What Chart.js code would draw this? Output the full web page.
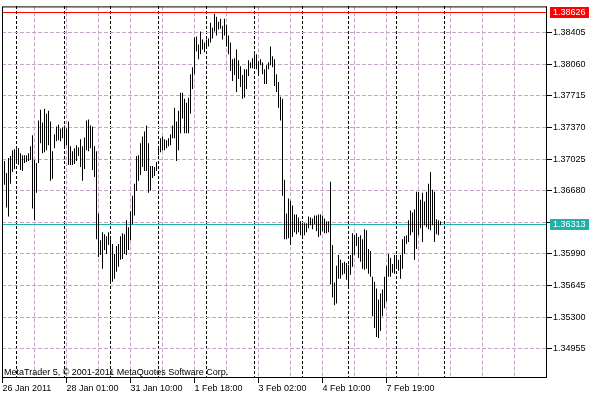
<!DOCTYPE html>
<html>
<head>
<meta charset="utf-8">
<title>EURUSD H1</title>
<script src="https://cdn.jsdelivr.net/npm/chart.js@4.4.1/dist/chart.umd.min.js"></script>
<style>
    body { margin: 0; background: #fff; }
    canvas { display: block; }
</style>
</head>
<body>
<canvas id="chart" width="600" height="400"></canvas>
<script>
// Hourly bars, 26 Jan - 8 Feb 2011. At this zoom MT5 only shows the high-low range.
const highs = [
    1.37004, 1.36874, 1.37036, 1.37058, 1.37122, 1.37133, 1.37133, 1.37144, 1.37090, 1.37068,
    1.37068, 1.37068, 1.37090, 1.37165, 1.37284, 1.37014, 1.36982, 1.37446, 1.37564, 1.37424,
    1.37575, 1.37521, 1.37553, 1.37435, 1.37112, 1.37295, 1.37381, 1.37403, 1.37359, 1.37370,
    1.37392, 1.37359, 1.37435, 1.37165, 1.37112, 1.37144, 1.37176, 1.37155, 1.37241, 1.37165,
    1.37262, 1.37446, 1.37456, 1.37392, 1.37381, 1.37165, 1.37112, 1.36432, 1.36141, 1.36227,
    1.36206, 1.36184, 1.36227, 1.36152, 1.36098, 1.35990, 1.36077, 1.36098, 1.36184, 1.36217,
    1.36206, 1.36357, 1.36281, 1.36454, 1.36626, 1.36756, 1.37058, 1.37068, 1.37198, 1.37273,
    1.37327, 1.37392, 1.37198, 1.36950, 1.36950, 1.36939, 1.36993, 1.37144, 1.37252, 1.37273,
    1.37241, 1.37230, 1.37252, 1.37295, 1.37392, 1.37586, 1.37435, 1.37553, 1.37748, 1.37748,
    1.37683, 1.37640, 1.37694, 1.37952, 1.38028, 1.38351, 1.38362, 1.38276, 1.38416, 1.38330,
    1.38297, 1.38330, 1.38341, 1.38513, 1.38459, 1.38610, 1.38578, 1.38524, 1.38556, 1.38481,
    1.38556, 1.38491, 1.38373, 1.38297, 1.38114, 1.38125, 1.38222, 1.38103, 1.38039, 1.37942,
    1.38006, 1.38006, 1.38103, 1.38082, 1.38125, 1.38168, 1.38168, 1.38093, 1.38114, 1.38082,
    1.38006, 1.38049, 1.38082, 1.38254, 1.38146, 1.38114, 1.37952, 1.37866, 1.37704, 1.37683,
    1.36799, 1.36432, 1.36594, 1.36572, 1.36519, 1.36421, 1.36421, 1.36389, 1.36346, 1.36314,
    1.36324, 1.36324, 1.36400, 1.36389, 1.36378, 1.36411, 1.36411, 1.36421, 1.36421, 1.36411,
    1.36378, 1.36346, 1.36346, 1.36777, 1.36087, 1.35678, 1.35861, 1.35980, 1.35926, 1.35893,
    1.35904, 1.35893, 1.35872, 1.35980, 1.36217, 1.36195, 1.36217, 1.36174, 1.36195, 1.36152,
    1.36260, 1.36249, 1.36044, 1.36023, 1.35742, 1.35688, 1.35613, 1.35494, 1.35559, 1.35602,
    1.35742, 1.35861, 1.35990, 1.35947, 1.35882, 1.35980, 1.35980, 1.35926, 1.35980, 1.36152,
    1.36184, 1.36195, 1.36357, 1.36465, 1.36443, 1.36475, 1.36669, 1.36669, 1.36583, 1.36659,
    1.36562, 1.36669, 1.36756, 1.36885, 1.36691, 1.36669, 1.36368, 1.36357, 1.36346
];
const lows = [
    1.36745, 1.36497, 1.36400, 1.36756, 1.36885, 1.36917, 1.36993, 1.36960, 1.36907, 1.36896,
    1.36982, 1.36993, 1.37004, 1.37014, 1.36486, 1.36357, 1.36659, 1.36982, 1.37198, 1.37090,
    1.37101, 1.37122, 1.37176, 1.36788, 1.36810, 1.37144, 1.37219, 1.37230, 1.37219, 1.37252,
    1.37165, 1.37176, 1.36960, 1.36960, 1.36960, 1.36971, 1.37004, 1.37058, 1.36939, 1.36788,
    1.36917, 1.37122, 1.37112, 1.37144, 1.36907, 1.36831, 1.36152, 1.35958, 1.35980, 1.35829,
    1.36033, 1.35990, 1.36087, 1.35688, 1.35688, 1.35721, 1.35796, 1.35850, 1.35926, 1.35936,
    1.35990, 1.35980, 1.36033, 1.36141, 1.36314, 1.36411, 1.36680, 1.36788, 1.36853, 1.36939,
    1.36896, 1.36896, 1.36659, 1.36680, 1.36820, 1.36842, 1.36896, 1.37068, 1.37101, 1.37122,
    1.37122, 1.37144, 1.37165, 1.37176, 1.37252, 1.37252, 1.37004, 1.37122, 1.37306, 1.37467,
    1.37306, 1.37306, 1.37306, 1.37521, 1.37791, 1.37952, 1.38200, 1.38114, 1.38168, 1.38222,
    1.38190, 1.38233, 1.38254, 1.38297, 1.38341, 1.38416, 1.38373, 1.38438, 1.38448, 1.38330,
    1.38373, 1.38254, 1.38168, 1.37985, 1.37877, 1.37942, 1.37758, 1.37898, 1.37812, 1.37683,
    1.37694, 1.37791, 1.37931, 1.38017, 1.38017, 1.38039, 1.38006, 1.37931, 1.38049, 1.37952,
    1.37845, 1.37845, 1.38006, 1.38049, 1.38028, 1.37823, 1.37758, 1.37586, 1.37446, 1.36626,
    1.36152, 1.36152, 1.36163, 1.36087, 1.36174, 1.36227, 1.36206, 1.36227, 1.36195, 1.36184,
    1.36195, 1.36227, 1.36270, 1.36303, 1.36260, 1.36314, 1.36238, 1.36174, 1.36195, 1.36238,
    1.36217, 1.36217, 1.36227, 1.35656, 1.35516, 1.35430, 1.35451, 1.35721, 1.35721, 1.35764,
    1.35775, 1.35710, 1.35613, 1.35764, 1.35850, 1.35980, 1.36077, 1.35947, 1.35904, 1.35829,
    1.35818, 1.35829, 1.35775, 1.35742, 1.35311, 1.35182, 1.35085, 1.35074, 1.35149, 1.35311,
    1.35397, 1.35473, 1.35742, 1.35742, 1.35785, 1.35775, 1.35829, 1.35807, 1.35721, 1.35829,
    1.35990, 1.36098, 1.36120, 1.36195, 1.36227, 1.35926, 1.36044, 1.36195, 1.36270, 1.36120,
    1.36303, 1.36281, 1.36260, 1.36249, 1.36303, 1.36120, 1.36206, 1.36195, 1.36303
];

// price axis
const priceTicks = [1.34955, 1.35300, 1.35645, 1.35990, 1.36335, 1.36680,
                    1.37025, 1.37370, 1.37715, 1.38060, 1.38405];
const priceMin = 1.34648;
const priceMax = 1.38691;

// time axis (positions are bar numbers)
const timeLabels = ['26 Jan 2011', '28 Jan 01:00', '31 Jan 10:00', '1 Feb 18:00',
                    '3 Feb 02:00', '4 Feb 10:00', '7 Feb 19:00'];
const timeLabelBars = [-1, 31, 63, 95, 127, 159, 191];
const dayStartBars = [6, 30, 53, 77, 101, 125, 149, 172, 196, 220];
const barMin = -1.25;
const barMax = 271.25;

// price lines on the right
const topLevel = 1.38626;
const bidLevel = 1.36313;

const watermark = 'MetaTrader 5, \u00a9 2001-2011 MetaQuotes Software Corp.';
const FONT = '"Liberation Sans", Arial, sans-serif';
const GRID = '#c4a6c6';

const bars = highs.map((h, i) => ({ x: i, y: [lows[i], h] }));

const overlay = {
    id: 'overlay',
    beforeDatasetsDraw(chart) {
        const { ctx, chartArea: a, scales: { y } } = chart;
        ctx.save();
        ctx.lineWidth = 1;
        [[topLevel, '#ff0000'], [bidLevel, '#20b2aa']].forEach(([v, c]) => {
            const py = Math.round(y.getPixelForValue(v)) + 0.5;
            ctx.strokeStyle = c;
            ctx.beginPath();
            ctx.moveTo(a.left, py);
            ctx.lineTo(a.right - 1, py);
            ctx.stroke();
        });
        ctx.restore();
    },
    afterDraw(chart) {
        const { ctx, chartArea: a, scales: { y } } = chart;
        ctx.save();
        // frame
        ctx.strokeStyle = '#000';
        ctx.lineWidth = 1;
        ctx.strokeRect(a.left + 0.5, a.top + 0.5, a.right - a.left - 1, a.bottom - a.top);

        // price boxes
        ctx.font = '9px ' + FONT;
        ctx.textBaseline = 'middle';
        ctx.textAlign = 'left';
        [[topLevel, '#ff0000'], [bidLevel, '#20b2aa']].forEach(([v, c]) => {
            const py = Math.round(y.getPixelForValue(v));
            ctx.fillStyle = c;
            ctx.fillRect(a.right + 3, py - 5, 39, 11);
            ctx.fillStyle = '#fff';
            ctx.fillText(v.toFixed(5), a.right + 6, py + 1);
        });

        // watermark
        ctx.fillStyle = '#000';
        ctx.textBaseline = 'alphabetic';
        ctx.fillText(watermark, a.left + 2, a.bottom - 2);
        ctx.restore();
    }
};

new Chart(document.getElementById('chart'), {
    type: 'bar',
    data: {
        datasets: [{
            data: bars,
            backgroundColor: '#000',
            borderWidth: 0,
            barThickness: 1,
            inflateAmount: 0,
            grouped: false
        }]
    },
    options: {
        responsive: false,
        animation: false,
        layout: { padding: { left: 2, top: 2, right: 0, bottom: 0 } },
        plugins: {
            legend: { display: false },
            tooltip: { enabled: false }
        },
        scales: {
            x: {
                type: 'linear',
                position: 'bottom',
                offset: false,
                min: barMin,
                max: barMax,
                afterBuildTicks: s => {
                    const t = [];
                    for (let v = -1; v <= barMax; v += 16) t.push({ value: v });
                    s.ticks = t;
                },
                afterFit: s => { s.height = 23; },
                ticks: {
                    autoSkip: false,
                    maxRotation: 0,
                    align: 'start',
                    padding: 0,
                    color: '#000',
                    font: { family: FONT, size: 9 },
                    callback: v => {
                        const i = timeLabelBars.indexOf(v);
                        return i >= 0 ? timeLabels[i] : '';
                    }
                },
                grid: {
                    offset: false,
                    color: GRID,
                    tickLength: 6,
                    tickBorderDash: [],
                    tickColor: c => (c.tick && timeLabelBars.includes(c.tick.value)) ? '#000' : 'rgba(0,0,0,0)'
                },
                border: { display: false, dash: [4, 2] }
            },
            xDay: {
                type: 'linear',
                position: 'top',
                offset: false,
                min: barMin,
                max: barMax,
                afterBuildTicks: s => { s.ticks = dayStartBars.map(v => ({ value: v })); },
                afterFit: s => { s.height = 0; },
                ticks: { display: false },
                grid: { offset: false, color: '#000', drawTicks: false },
                border: { display: false, dash: [3, 2] }
            },
            y: {
                type: 'linear',
                position: 'right',
                min: priceMin,
                max: priceMax,
                afterBuildTicks: s => { s.ticks = priceTicks.map(v => ({ value: v })); },
                afterFit: s => { s.width = 53; },
                ticks: {
                    padding: 1,
                    color: '#000',
                    font: { family: FONT, size: 9 },
                    callback: v => v.toFixed(5)
                },
                grid: {
                    color: GRID,
                    tickLength: 5,
                    tickBorderDash: [],
                    tickColor: '#000'
                },
                border: { display: false, dash: [4, 2] }
            }
        }
    },
    plugins: [overlay]
});
</script>
</body>
</html>
